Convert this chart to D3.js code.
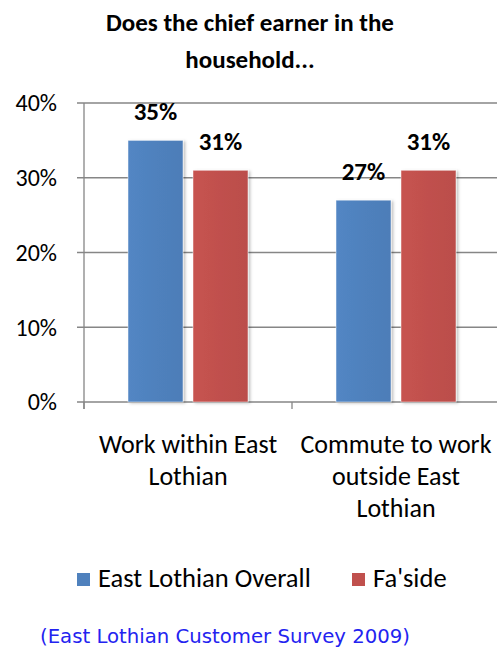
<!DOCTYPE html>
<html><head><meta charset="utf-8">
<script src="https://cdn.jsdelivr.net/npm/d3@7"></script>
<style>
html,body{margin:0;padding:0;background:#fff;}
svg{display:block;}
</style></head>
<body>
<svg id="chart" width="497" height="648"></svg>
<script>
const titleLines = ["Does the chief earner in the", "household..."];
const categories = [["Work within East", "Lothian"], ["Commute to work", "outside East", "Lothian"]];
const seriesNames = ["East Lothian Overall", "Fa'side"];
const seriesColors = ["#4F81BD", "#C0504D"];
const eastLothianOverall = [35, 27];
const fasideValues = [31, 31];
const yTicks = [0, 10, 20, 30, 40];
const sourceText = "(East Lothian Customer Survey 2009)";

const FONT = "Carlito, Lato, 'Open Sans', sans-serif";
const svg = d3.select("#chart");
const M = {left: 84, right: 500, top: 103, bottom: 402};

const x0 = d3.scaleBand().domain(d3.range(categories.length)).range([M.left, M.right]).paddingInner(0).paddingOuter(0);
const x1 = d3.scaleBand().domain(d3.range(seriesNames.length)).range([44, 164]).paddingInner(10 / 65);
const y = d3.scaleLinear().domain([0, 40]).range([M.bottom, M.top]);

const defs = svg.append("defs");
seriesColors.forEach((c, i) => {
  const g = defs.append("linearGradient").attr("id", "g" + i).attr("x1", 0).attr("x2", 1).attr("y1", 0).attr("y2", 0);
  g.append("stop").attr("offset", "0%").attr("stop-color", d3.color(c).brighter(0.1));
  g.append("stop").attr("offset", "50%").attr("stop-color", c);
  g.append("stop").attr("offset", "100%").attr("stop-color", d3.color(c).darker(0.08));
});
const f = defs.append("filter").attr("id", "sh").attr("x", "-20%").attr("y", "-10%").attr("width", "140%").attr("height", "120%");
f.append("feDropShadow").attr("dx", 2).attr("dy", 1).attr("stdDeviation", 1.5).attr("flood-color", "#000").attr("flood-opacity", 0.25);

svg.append("g").selectAll("line").data(yTicks).join("line")
  .attr("x1", M.left - 7).attr("x2", M.right).attr("y1", d => y(d)).attr("y2", d => y(d))
  .attr("stroke", "#868686").attr("stroke-width", 1.3);
svg.append("line").attr("x1", M.left).attr("x2", M.left).attr("y1", M.top).attr("y2", M.bottom + 7)
  .attr("stroke", "#868686").attr("stroke-width", 1.3);
svg.append("g").selectAll("line").data(d3.range(categories.length + 1)).join("line")
  .attr("x1", d => M.left + d * x0.bandwidth()).attr("x2", d => M.left + d * x0.bandwidth())
  .attr("y1", M.bottom).attr("y2", M.bottom + 7).attr("stroke", "#868686").attr("stroke-width", 1.3);

svg.append("g").selectAll("text").data(yTicks).join("text")
  .attr("x", 57).attr("y", d => y(d)).attr("dy", "0.35em").attr("text-anchor", "end")
  .attr("font-family", FONT).attr("font-size", 24).attr("fill", "#000")
  .text(d => d + "%");

const series = [eastLothianOverall, fasideValues];
const bars = [];
categories.forEach((c, ci) => series.forEach((s, si) => bars.push({ci, si, v: s[ci]})));
const bx = d => x0(d.ci) + x1(d.si);
svg.append("g").selectAll("rect").data(bars).join("rect")
  .attr("x", bx).attr("y", d => y(d.v)).attr("width", x1.bandwidth()).attr("height", d => y(0) - y(d.v))
  .attr("fill", d => `url(#g${d.si})`).attr("stroke", "rgba(255,255,255,0.6)").attr("stroke-width", 0.8)
  .attr("filter", "url(#sh)");
svg.append("g").selectAll("text").data(bars).join("text")
  .attr("x", d => bx(d) + x1.bandwidth() / 2).attr("y", d => y(d.v) - 20).attr("text-anchor", "middle")
  .attr("font-family", FONT).attr("font-weight", "bold").attr("font-size", 25).attr("fill", "#000")
  .text(d => d.v + "%");

categories.forEach((lines, ci) => {
  lines.forEach((ln, li) => {
    svg.append("text").attr("x", x0(ci) + x0.bandwidth() / 2).attr("y", 453 + li * 32)
      .attr("text-anchor", "middle").attr("font-family", FONT).attr("font-size", 26).attr("fill", "#000").text(ln);
  });
});

titleLines.forEach((t, i) => {
  svg.append("text").attr("x", 250).attr("y", 31 + i * 37).attr("text-anchor", "middle")
    .attr("font-family", FONT).attr("font-weight", "bold").attr("font-size", 25).attr("fill", "#000").text(t);
});

const legX = [77, 352];
seriesNames.forEach((n, i) => {
  svg.append("rect").attr("x", legX[i]).attr("y", 573).attr("width", 13).attr("height", 13).attr("fill", seriesColors[i]);
  svg.append("text").attr("x", legX[i] + 21).attr("y", 587).attr("font-family", FONT).attr("font-size", 26.5)
    .attr("fill", "#000").text(n);
});

svg.append("text").attr("x", 40).attr("y", 643).attr("font-family", "'DejaVu Sans', sans-serif").attr("font-size", 19.7)
  .attr("fill", "#2323F0").text(sourceText);
</script>
</body></html>
